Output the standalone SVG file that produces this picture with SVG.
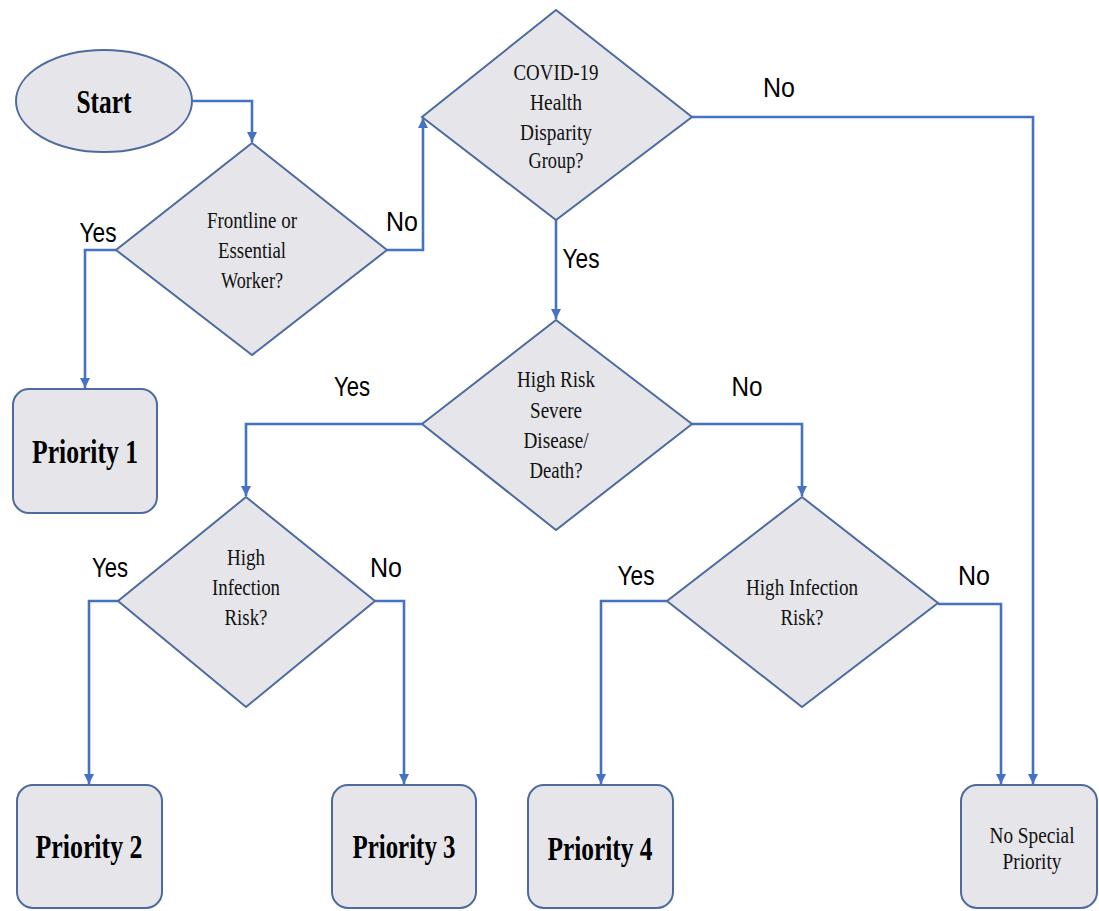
<svg xmlns="http://www.w3.org/2000/svg" width="1099" height="911" viewBox="0 0 1099 911">
<style>
.dia{fill:#e6e6ea;stroke:#4d6b9e;stroke-width:2}
.box{fill:#e6e6ea;stroke:#4d6b9e;stroke-width:2}
.conn{fill:none;stroke:#4472c4;stroke-width:2.6}
.dt{font-family:"Liberation Serif","Times New Roman",serif;font-size:24px;fill:#111;text-anchor:middle}
.bt{font-family:"Liberation Serif","Times New Roman",serif;font-size:33px;font-weight:bold;fill:#000;text-anchor:middle}
.lb{font-family:"Liberation Sans",Arial,sans-serif;font-size:28px;fill:#000;text-anchor:middle}
</style>
<defs>
<marker id="ah" markerUnits="userSpaceOnUse" markerWidth="10" markerHeight="10" refX="10" refY="5" orient="auto">
<path d="M0,0 L10,5 L0,10 z" fill="#4472c4"/>
</marker>
</defs>
<rect width="1099" height="911" fill="#fff"/>
<g id="connectors">
<path class="conn" d="M193,101 H252 V142" marker-end="url(#ah)"/>
<path class="conn" d="M116,250 H85 V388" marker-end="url(#ah)"/>
<path class="conn" d="M387,250 H423 V118" marker-end="url(#ah)"/>
<path class="conn" d="M692,117 H1033 V784" marker-end="url(#ah)"/>
<path class="conn" d="M556,220 V319" marker-end="url(#ah)"/>
<path class="conn" d="M422,424 H246 V496" marker-end="url(#ah)"/>
<path class="conn" d="M692,424 H802 V496" marker-end="url(#ah)"/>
<path class="conn" d="M118,601 H89 V784" marker-end="url(#ah)"/>
<path class="conn" d="M375,601 H404 V784" marker-end="url(#ah)"/>
<path class="conn" d="M667,601 H601 V784" marker-end="url(#ah)"/>
<path class="conn" d="M938,604 H1001 V784" marker-end="url(#ah)"/>
</g>
<g id="labels">
<text class="lb" x="98" y="242" textLength="37" lengthAdjust="spacingAndGlyphs">Yes</text>
<text class="lb" x="402" y="231" textLength="32" lengthAdjust="spacingAndGlyphs">No</text>
<text class="lb" x="779" y="97" textLength="32" lengthAdjust="spacingAndGlyphs">No</text>
<text class="lb" x="581" y="268" textLength="37" lengthAdjust="spacingAndGlyphs">Yes</text>
<text class="lb" x="352" y="396" textLength="36" lengthAdjust="spacingAndGlyphs">Yes</text>
<text class="lb" x="747" y="396" textLength="31" lengthAdjust="spacingAndGlyphs">No</text>
<text class="lb" x="110" y="577" textLength="36" lengthAdjust="spacingAndGlyphs">Yes</text>
<text class="lb" x="386" y="577" textLength="32" lengthAdjust="spacingAndGlyphs">No</text>
<text class="lb" x="636" y="585" textLength="37" lengthAdjust="spacingAndGlyphs">Yes</text>
<text class="lb" x="974" y="585" textLength="32" lengthAdjust="spacingAndGlyphs">No</text>
</g>
<g id="start">
<ellipse cx="104" cy="101" rx="88" ry="51" class="box"/>
<text class="bt" x="104" y="113" font-size="29" textLength="55" lengthAdjust="spacingAndGlyphs">Start</text>
</g>
<g id="frontline">
<polygon class="dia" points="252,143 387,250 252,355 116,250"/>
<text class="dt" x="252" y="228" textLength="90" lengthAdjust="spacingAndGlyphs">Frontline or</text>
<text class="dt" x="252" y="258" textLength="68" lengthAdjust="spacingAndGlyphs">Essential</text>
<text class="dt" x="252" y="288" textLength="62" lengthAdjust="spacingAndGlyphs">Worker?</text>
</g>
<g id="disparity">
<polygon class="dia" points="556,10 692,117 556,220 422,117"/>
<text class="dt" x="556" y="80" textLength="85" lengthAdjust="spacingAndGlyphs">COVID-19</text>
<text class="dt" x="556" y="110" textLength="52" lengthAdjust="spacingAndGlyphs">Health</text>
<text class="dt" x="556" y="140" textLength="72" lengthAdjust="spacingAndGlyphs">Disparity</text>
<text class="dt" x="556" y="168" textLength="55" lengthAdjust="spacingAndGlyphs">Group?</text>
</g>
<g id="highrisk">
<polygon class="dia" points="556,320 692,424 556,530 422,424"/>
<text class="dt" x="556" y="387" textLength="78" lengthAdjust="spacingAndGlyphs">High Risk</text>
<text class="dt" x="556" y="418" textLength="52" lengthAdjust="spacingAndGlyphs">Severe</text>
<text class="dt" x="556" y="448" textLength="65" lengthAdjust="spacingAndGlyphs">Disease/</text>
<text class="dt" x="556" y="478" textLength="53" lengthAdjust="spacingAndGlyphs">Death?</text>
</g>
<g id="infection-left">
<polygon class="dia" points="246,497 375,601 246,707 118,601"/>
<text class="dt" x="246" y="565" textLength="38" lengthAdjust="spacingAndGlyphs">High</text>
<text class="dt" x="246" y="595" textLength="68" lengthAdjust="spacingAndGlyphs">Infection</text>
<text class="dt" x="246" y="625" textLength="43" lengthAdjust="spacingAndGlyphs">Risk?</text>
</g>
<g id="infection-right">
<polygon class="dia" points="802,497 938,603 802,707 667,601"/>
<text class="dt" x="802" y="595" textLength="112" lengthAdjust="spacingAndGlyphs">High Infection</text>
<text class="dt" x="802" y="625" textLength="43" lengthAdjust="spacingAndGlyphs">Risk?</text>
</g>
<g id="priority1">
<rect class="box" x="13" y="389" width="144" height="124" rx="16"/>
<text class="bt" x="85" y="463" textLength="106" lengthAdjust="spacingAndGlyphs">Priority 1</text>
</g>
<g id="priority2">
<rect class="box" x="17" y="785" width="145" height="123" rx="16"/>
<text class="bt" x="89" y="858" textLength="107" lengthAdjust="spacingAndGlyphs">Priority 2</text>
</g>
<g id="priority3">
<rect class="box" x="332" y="785" width="144" height="123" rx="16"/>
<text class="bt" x="404" y="858" textLength="103" lengthAdjust="spacingAndGlyphs">Priority 3</text>
</g>
<g id="priority4">
<rect class="box" x="528" y="785" width="145" height="123" rx="16"/>
<text class="bt" x="600" y="860" textLength="105" lengthAdjust="spacingAndGlyphs">Priority 4</text>
</g>
<g id="no-special">
<rect class="box" x="961" y="785" width="136" height="123" rx="16"/>
<text class="dt" x="1032" y="843" font-size="22" textLength="85" lengthAdjust="spacingAndGlyphs">No Special</text>
<text class="dt" x="1032" y="869" font-size="22" textLength="59" lengthAdjust="spacingAndGlyphs">Priority</text>
</g>
</svg>
